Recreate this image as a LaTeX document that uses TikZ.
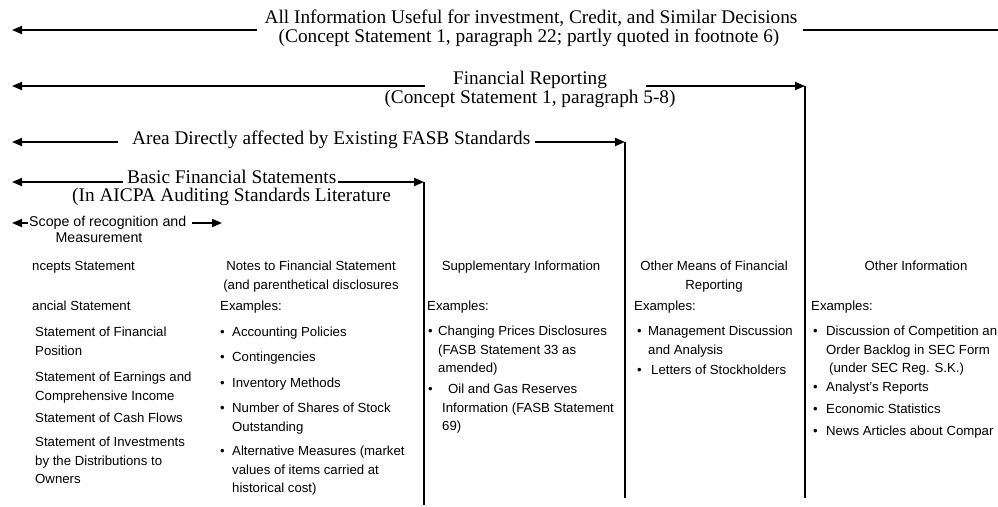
\documentclass[tikz,border=0pt]{standalone}
\usepackage{fontspec}
\setmainfont{Liberation Serif}
\setsansfont{Liberation Sans}
\usetikzlibrary{arrows.meta,calc}
\begin{document}
\begin{tikzpicture}[x=1pt,y=-1pt,
  serif/.style={font=\fontsize{19.3}{21}\selectfont, inner sep=0pt, anchor=mid},
  sanshead/.style={font=\sffamily\fontsize{13.2}{18.5}\selectfont, inner sep=0pt, align=center, anchor=north},
  sans/.style={font=\sffamily\fontsize{13.2}{18.5}\selectfont, inner sep=0pt, align=left, anchor=north west},
  bul/.style={sans, execute at begin node={\vphantom{Ag}}},
  scopetext/.style={font=\sffamily\fontsize{14.2}{18}\selectfont, inner sep=0pt},
  arr/.style={line width=1.8pt, -{Triangle[length=10pt,width=8pt]}},
  plainline/.style={line width=1.8pt},
  bar/.style={line width=1.3pt}]
\useasboundingbox (0,0) rectangle (998,506);

% ---- coordinates
\coordinate (l1) at (12,30);
\coordinate (r1) at (998,30);
\coordinate (l2) at (12,86);
\coordinate (l3) at (12,142);
\coordinate (l4) at (12,182);
\coordinate (l5) at (12,223);
\coordinate (r5) at (222,223);
\coordinate (v1top) at (424,182);
\coordinate (v1bot) at (424,505);
\coordinate (v2top) at (625,142);
\coordinate (v2bot) at (625,498);
\coordinate (v3top) at (805,86);
\coordinate (v3bot) at (805,498);

% ---- top titles
\node[serif] (t1a) at (531,21) {All Information Useful for investment, Credit, and Similar Decisions};
\node[serif] (t1b) at (529,40) {(Concept Statement 1, paragraph 22; partly quoted in footnote 6)};
\node[serif] (t2a) at (530,82) {Financial Reporting};
\node[serif] (t2b) at (530,101) {(Concept Statement 1, paragraph 5-8)};
\node[serif,anchor=mid west] (t3) at (132,142) {Area Directly affected by Existing FASB Standards};
\node[serif,anchor=mid west] (t4a) at (127,181) {Basic Financial Statements};
\node[serif,anchor=mid west] (t4b) at (72,199) {(In AICPA Auditing Standards Literature};
\node[scopetext,anchor=mid west] (t5a) at (29,224) {Scope of recognition and};
\node[scopetext,anchor=mid] (t5b) at (99,240) {Measurement};

% ---- arrows
\draw[arr] ($(t1a.west |- l1)+(-7,0)$) -- (l1);
\draw[plainline] ($(t1a.east |- l1)+(5,0)$) -- (r1);
\draw[arr] ($(t2a.west |- l2)+(-28,0)$) -- (l2);
\draw[arr] ($(t2a.east |- l2)+(39,0)$) -- (v3top);
\draw[arr] ($(t3.west |- l3)+(-14,0)$) -- (l3);
\draw[arr] ($(t3.east |- l3)+(5,0)$) -- (v2top);
\draw[arr] ($(t4a.west |- l4)+(-4,0)$) -- (l4);
\draw[arr] ($(t4a.east |- l4)+(2,0)$) -- (v1top);
\draw[arr] ($(t5a.west |- l5)+(-1,0)$) -- (l5);
\draw[arr] ($(t5a.east |- l5)+(5,0)$) -- (r5);

% ---- column separators
\draw[bar] (v1top) -- (v1bot);
\draw[bar] (v2top) -- (v2bot);
\draw[bar] (v3top) -- (v3bot);

% ---- column 1
\node[sans] (h1) at (32,261) {ncepts Statement};
\node[sans] (s1) at (32,301) {ancial Statement};
\node[sans] (c1a) at (35,327) {Statement of Financial\\Position};
\node[sans] (c1b) at (35,372) {Statement of Earnings and\\Comprehensive Income};
\node[sans] (c1c) at (35,413) {Statement of Cash Flows};
\node[sans] (c1d) at (35,437) {Statement of Investments\\by the Distributions to\\Owners};

% ---- column 2
\node[sanshead] (h2) at (311,261) {Notes to Financial Statement\\(and parenthetical disclosures};
\node[sans] (e2) at (220,301) {Examples:};
\node[bul] (b2a) at (220,327) {•};
\node[sans] (c2a) at (232,327) {Accounting Policies};
\node[bul] (b2b) at (220,352) {•};
\node[sans] (c2b) at (232,352) {Contingencies};
\node[bul] (b2c) at (220,378) {•};
\node[sans] (c2c) at (232,378) {Inventory Methods};
\node[bul] (b2d) at (220,403) {•};
\node[sans] (c2d) at (232,403) {Number of Shares of Stock\\Outstanding};
\node[bul] (b2e) at (220,446) {•};
\node[sans] (c2e) at (232,446) {Alternative Measures (market\\values of items carried at\\historical cost)};

% ---- column 3
\node[sanshead] (h3) at (521,261) {Supplementary Information};
\node[sans] (e3) at (427,301) {Examples:};
\node[bul] (b3a) at (428,326) {•};
\node[sans] (c3a) at (438,326) {Changing Prices Disclosures\\(FASB Statement 33 as\\amended)};
\node[bul] (b3b) at (428,384) {•};
\node[sans] (c3b) at (442,384) {\hspace{6pt}Oil and Gas Reserves\\Information (FASB Statement\\69)};

% ---- column 4
\node[sanshead] (h4) at (714,261) {Other Means of Financial\\Reporting};
\node[sans] (e4) at (634,301) {Examples:};
\node[bul] (b4a) at (637,326) {•};
\node[sans] (c4a) at (648,326) {Management Discussion\\and Analysis};
\node[bul] (b4b) at (637,365) {•};
\node[sans] (c4b) at (648,365) {\hspace{3pt}Letters of Stockholders};

% ---- column 5
\node[sanshead] (h5) at (916,261) {Other Information};
\node[sans] (e5) at (811,301) {Examples:};
\node[bul] (b5a) at (813,326) {•};
\node[sans] (c5a) at (826,326) {Discussion of Competition an\\Order Backlog in SEC Form\\\hspace{3pt}(under SEC Reg. S.K.)};
\node[bul] (b5b) at (813,382) {•};
\node[sans] (c5b) at (826,382) {Analyst's Reports};
\node[bul] (b5c) at (813,404) {•};
\node[sans] (c5c) at (826,404) {Economic Statistics};
\node[bul] (b5d) at (813,426) {•};
\node[sans] (c5d) at (826,426) {News Articles about Compar};
\end{tikzpicture}
\end{document}
